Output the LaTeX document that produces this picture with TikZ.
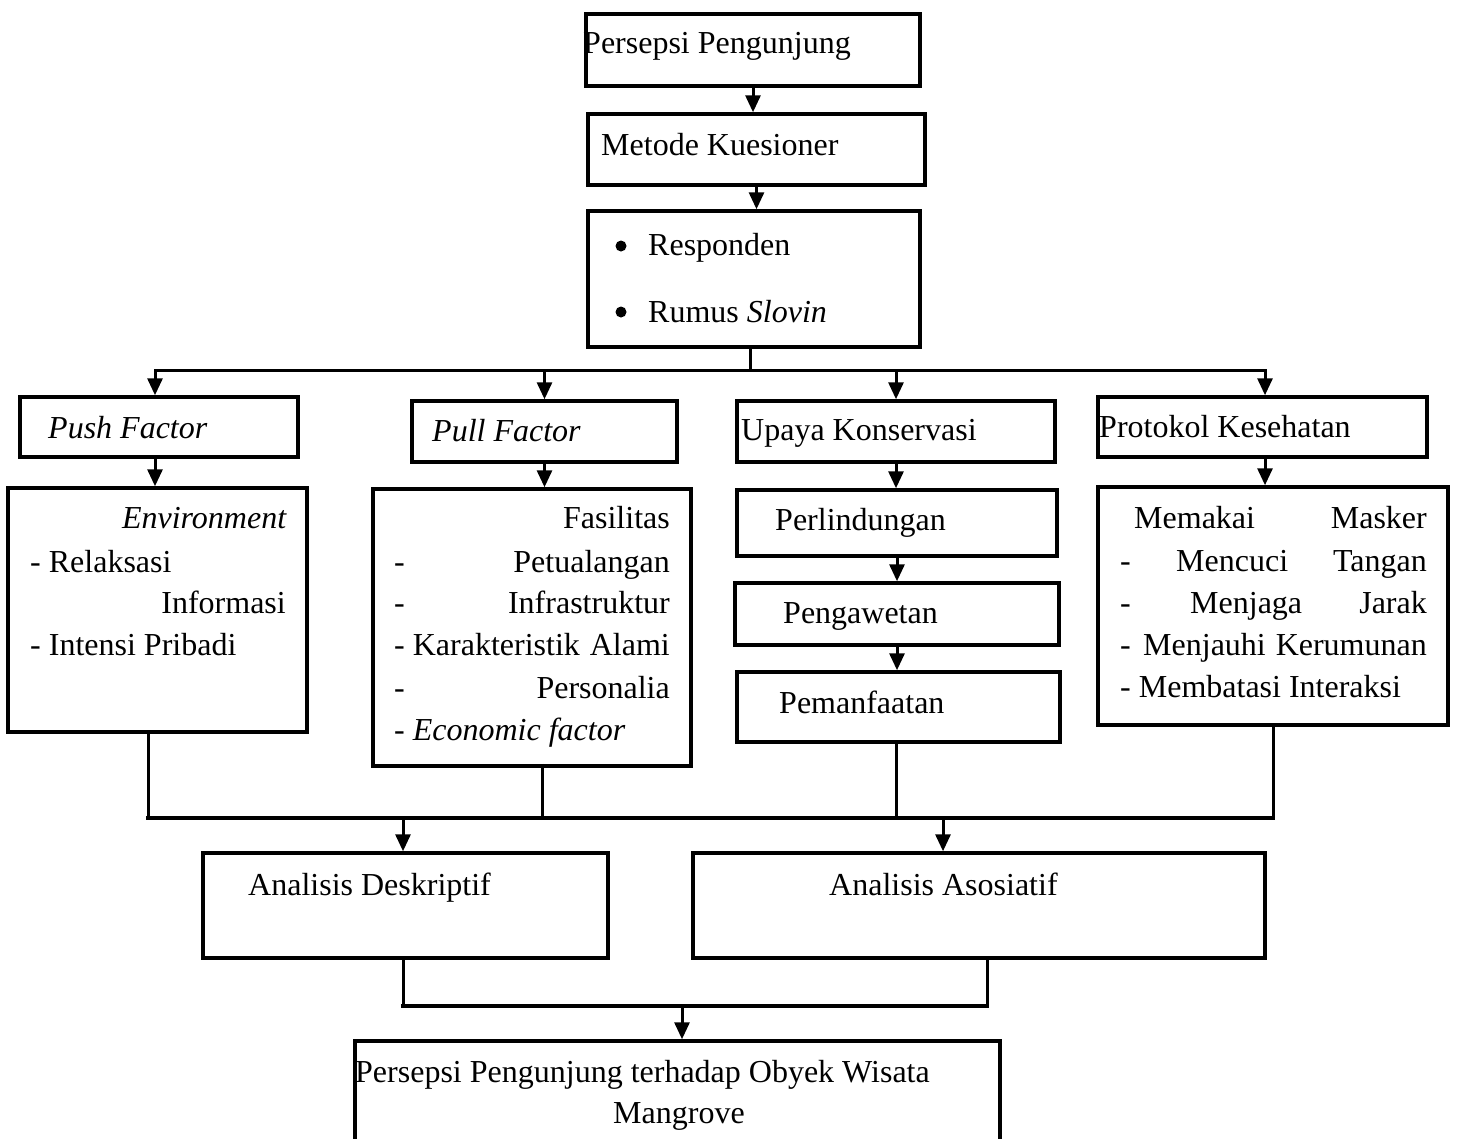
\documentclass[tikz,border=0pt]{standalone}
\usepackage{fontspec}
\setmainfont{Liberation Serif}
\usetikzlibrary{arrows.meta}
\begin{document}
\begin{tikzpicture}[x=1pt,y=-1pt,
  box/.style={draw, line width=3.5pt, rectangle, inner sep=0pt},
  conn/.style={line width=3pt},
  arr/.style={conn, -{Triangle[length=17pt,width=15pt]}},
  txt/.style={inner sep=0pt, font=\fontsize{32}{38}\selectfont},
  tl/.style={txt, anchor=base west},
  tr/.style={txt, anchor=base east},
  bul/.style={circle, fill, inner sep=0pt, minimum size=11pt}]
\useasboundingbox (0,0) rectangle (1458,1138);
% boxes
\node[box, minimum width=334pt, minimum height=72pt] (p1) at (753,50) {};
\node[box, minimum width=337pt, minimum height=71pt] (p2) at (756.5,149.5) {};
\node[box, minimum width=332pt, minimum height=136pt] (p3) at (754,279) {};
\node[box, minimum width=278pt, minimum height=60pt] (push) at (159,427) {};
\node[box, minimum width=265pt, minimum height=61pt] (pull) at (544.5,431.5) {};
\node[box, minimum width=318pt, minimum height=61pt] (upaya) at (896,431.5) {};
\node[box, minimum width=329pt, minimum height=60pt] (prot) at (1262.5,427) {};
\node[box, minimum width=299pt, minimum height=244pt] (env) at (157.5,610) {};
\node[box, minimum width=318pt, minimum height=277pt] (pullb) at (532,627.5) {};
\node[box, minimum width=320pt, minimum height=66pt] (perl) at (897,523) {};
\node[box, minimum width=324pt, minimum height=62pt] (peng) at (897,614) {};
\node[box, minimum width=323pt, minimum height=70pt] (pema) at (898.5,707) {};
\node[box, minimum width=350pt, minimum height=238pt] (protb) at (1273,606) {};
\node[box, minimum width=405pt, minimum height=105pt] (desk) at (405.5,905.5) {};
\node[box, minimum width=572pt, minimum height=105pt] (asos) at (979,905.5) {};
\node[box, minimum width=645pt, minimum height=110pt] (fin) at (677.5,1096) {};
% texts
\node[tl] (t1) at (583,53) {Persepsi Pengunjung};
\node[tl] (t2) at (601,155) {Metode Kuesioner};
\node[bul] (b1) at (621,246) {};
\node[tl] (t3a) at (648,255) {Responden};
\node[bul] (b2) at (621,312) {};
\node[tl] (t3b) at (648,322) {Rumus \textit{Slovin}};
\node[tl] (tpush) at (48,438) {\textit{Push Factor}};
\node[tl] (tpull) at (432,441) {\textit{Pull Factor}};
\node[tl] (tupaya) at (741,440) {Upaya Konservasi};
\node[tl] (tprot) at (1099,437) {Protokol Kesehatan};
% environment box
\node[tr] (e1) at (287,528) {\textit{Environment}};
\node[tl] (e2) at (30,572) {- Relaksasi};
\node[tr] (e3) at (286,613) {Informasi};
\node[tl] (e4) at (30,655) {- Intensi Pribadi};
% pull box
\node[tr] (f1) at (670,528) {Fasilitas};
\node[tl] (f2d) at (394,572) {-};
\node[tr] (f2) at (670,572) {Petualangan};
\node[tl] (f3d) at (394,613) {-};
\node[tr] (f3) at (670,613) {Infrastruktur};
\node[tl] (f4) at (394,655) {- Karakteristik};
\node[tr] (f4b) at (670,655) {Alami};
\node[tl] (f5d) at (394,698) {-};
\node[tr] (f5) at (670,698) {Personalia};
\node[tl] (f6) at (394,740) {- \textit{Economic factor}};
% konservasi
\node[tl] (k1) at (775,530) {Perlindungan};
\node[tl] (k2) at (783,623) {Pengawetan};
\node[tl] (k3) at (779,713) {Pemanfaatan};
% protokol box
\node[tl] (m1a) at (1134,528) {Memakai};
\node[tr] (m1b) at (1427,528) {Masker};
\node[tl] (m2d) at (1120,571) {-};
\node[tl] (m2a) at (1176,571) {Mencuci};
\node[tr] (m2b) at (1427,571) {Tangan};
\node[tl] (m3d) at (1120,613) {-};
\node[tl] (m3a) at (1190,613) {Menjaga};
\node[tr] (m3b) at (1427,613) {Jarak};
\node[tl] (m4d) at (1120,655) {-};
\node[tl] (m4a) at (1143,655) {Menjauhi};
\node[tr] (m4b) at (1427,655) {Kerumunan};
\node[tl] (m5) at (1120,697) {- Membatasi Interaksi};
% analysis
\node[tl] (a1) at (248,895) {Analisis Deskriptif};
\node[tl] (a2) at (829,895) {Analisis Asosiatif};
\node[tl] (z1) at (355,1082) {Persepsi Pengunjung terhadap Obyek Wisata};
\node[tl] (z2) at (613,1123) {Mangrove};
% connectors
\draw[arr] (p1.south) -- (p1.south |- p2.north);
\draw[arr] (p2.south) -- (p2.south |- p3.north);
\coordinate (busA) at (0,370);
\coordinate (p3o) at ([xshift=-4pt]p3.south);
\draw[conn] (p3o) -- (p3o |- busA);
\coordinate (pusho) at ([xshift=-4pt]push.north);
\coordinate (proto) at ([xshift=2.5pt]prot.north);
\draw[conn, line cap=rect] (pusho |- busA) -- (proto |- busA);
\draw[arr] (pusho |- busA) -- (pusho);
\draw[arr] (pull.north |- busA) -- (pull.north);
\draw[arr] (upaya.north |- busA) -- (upaya.north);
\draw[arr] (proto |- busA) -- (proto);
\draw[arr] (pusho |- push.south) -- (pusho |- env.north);
\draw[arr] (pull.south) -- (pull.south |- pullb.north);
\draw[arr] (upaya.south) -- (upaya.south |- perl.north);
\draw[arr] (perl.south) -- (perl.south |- peng.north);
\draw[arr] (peng.south) -- (peng.south |- pema.north);
\draw[arr] (proto |- prot.south) -- (proto |- protb.north);
\coordinate (busB) at (0,818);
\coordinate (envo) at ([xshift=-9.5pt]env.south);
\coordinate (pullbo) at ([xshift=10pt]pullb.south);
\coordinate (pemao) at ([xshift=-2.5pt]pema.south);
\draw[conn] (envo) -- (envo |- busB);
\draw[conn] ([yshift=4pt]pullbo) -- (pullbo |- busB);
\draw[conn] (pemao) -- (pemao |- busB);
\draw[conn] (protb.south) -- (protb.south |- busB);
\draw[conn, line width=3.5pt, line cap=rect] (envo |- busB) -- (protb.south |- busB);
\coordinate (deski) at ([xshift=-2.5pt]desk.north);
\coordinate (asosi) at ([xshift=-36pt]asos.north);
\draw[arr] (deski |- busB) -- (deski);
\draw[arr] (asosi |- busB) -- (asosi);
\coordinate (busC) at (0,1006);
\coordinate (desko) at ([xshift=-2.5pt]desk.south);
\coordinate (asoso) at ([xshift=8pt]asos.south);
\draw[conn] (desko) -- (desko |- busC);
\draw[conn] (asoso) -- (asoso |- busC);
\draw[conn, line width=3.5pt, line cap=rect] (desko |- busC) -- (asoso |- busC);
\coordinate (fini) at ([xshift=4.5pt]fin.north);
\draw[arr] (fini |- busC) -- (fini);
\end{tikzpicture}
\end{document}
